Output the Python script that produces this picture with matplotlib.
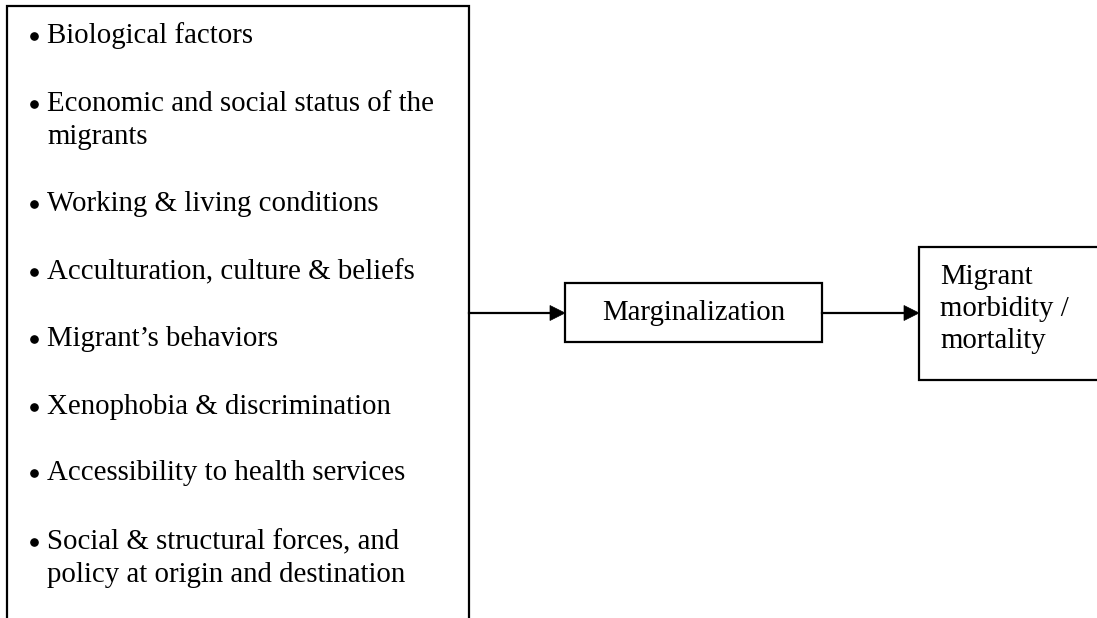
import matplotlib
matplotlib.use("Agg")
import matplotlib.pyplot as plt
from matplotlib.patches import Polygon, Rectangle

# ---- content ----
factors = [
    ["Biological factors"],
    ["Economic and social status of the", "migrants"],
    ["Working & living conditions"],
    ["Acculturation, culture & beliefs"],
    ["Migrant\u2019s behaviors"],
    ["Xenophobia & discrimination"],
    ["Accessibility to health services"],
    ["Social & structural forces, and", "policy at origin and destination"],
]
middle_label = "Marginalization"
outcome_lines = ["Migrant", "morbidity /", "mortality"]

W, H = 1097, 618
fig = plt.figure(figsize=(W / 100, H / 100), dpi=100)
ax = fig.add_axes([0, 0, 1, 1])
ax.set_xlim(0, W)
ax.set_ylim(H, 0)
ax.axis("off")

FONT = "Liberation Serif"
LW = 1.6
fs = 20.8

# left box (open at the bottom)
ax.plot([7, 7, 469, 469], [H + 5, 6, 6, H + 5], color="black", lw=LW,
        solid_joinstyle="miter", clip_on=False)

# bullet list
item_y = [36, 104, 204, 272, 339, 407, 473, 542]
line_gap = 33
for lines, y in zip(factors, item_y):
    ax.plot([34], [y - 0.5], marker="o", ms=5.2, color="black", mec="black")
    for k, ln in enumerate(lines):
        ax.text(47, y + k * line_gap, ln, fontsize=fs, family=FONT,
                ha="left", va="center")

# marginalization box
ax.add_patch(Rectangle((565, 283), 822 - 565, 342 - 283, fill=False,
                       ec="black", lw=LW))
ax.text((565 + 822) / 2, 313, middle_label, fontsize=fs, family=FONT,
        ha="center", va="center")

# outcome box (runs off the right edge)
ax.plot([W + 5, 919, 919, W + 5], [247, 247, 380, 380], color="black", lw=LW,
        solid_joinstyle="miter", clip_on=False)
for k, ln in enumerate(outcome_lines):
    ax.text(940, 277 + k * 32, ln, fontsize=fs, family=FONT,
            ha="left", va="center")

# arrows
def arrow(x0, x1, y):
    ax.plot([x0, x1 - 14], [y, y], color="black", lw=LW)
    ax.add_patch(Polygon([(x1 - 15, y - 7.5), (x1, y), (x1 - 15, y + 7.5)],
                         closed=True, fc="black", ec="black", lw=0.5))

arrow(469, 565, 313)
arrow(822, 919, 313)

fig.savefig("out.png", dpi=100)
